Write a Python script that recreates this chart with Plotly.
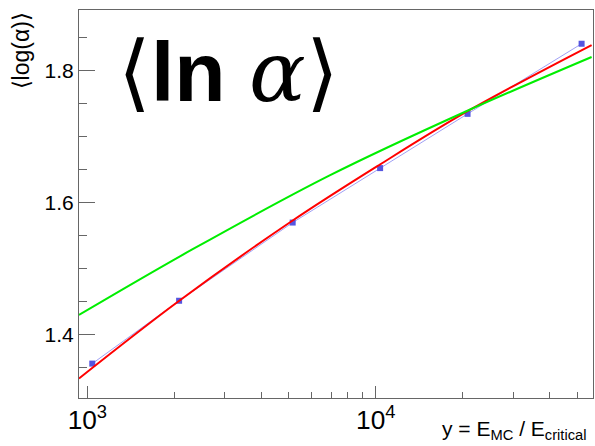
import plotly.graph_objects as go

# Data points (blue)
pts_x = [1040, 2080, 5150, 10350, 20800, 51700]
pts_y = [1.3565, 1.4515, 1.5697, 1.652, 1.734, 1.840]

# Red fit curve
red_x = [935, 2060, 5120, 10300, 20800, 56000]
red_y = [1.334, 1.450, 1.572, 1.657, 1.738, 1.838]

# Green curve
green_x = [935, 2310, 6920, 20600, 56000]
green_y = [1.430, 1.529, 1.641, 1.738, 1.820]

FONT = "Liberation Sans, Arial, Helvetica, sans-serif"

fig = go.Figure()
fig.add_trace(go.Scatter(x=pts_x, y=pts_y, mode="lines+markers",
                         line=dict(color="rgba(120,120,240,0.7)", width=1),
                         marker=dict(symbol="square", size=6, color="#5555e0"),
                         showlegend=False))
fig.add_trace(go.Scatter(x=red_x, y=red_y, mode="lines",
                         line=dict(color="#ff0000", width=2, shape="spline", smoothing=1.0),
                         showlegend=False))
fig.add_trace(go.Scatter(x=green_x, y=green_y, mode="lines",
                         line=dict(color="#00ee00", width=2, shape="spline", smoothing=1.0),
                         showlegend=False))

fig.update_layout(
    width=595, height=446,
    margin=dict(l=79, r=2, t=10, b=48, autoexpand=False),
    paper_bgcolor="white", plot_bgcolor="white",
    font=dict(family=FONT, size=21, color="black"),
    xaxis=dict(type="log", range=[2.971, 4.753], dtick=1, exponentformat="power",
               showline=True, linecolor="#666666", linewidth=1, mirror=True,
               ticks="inside", ticklen=12, tickcolor="#666666", showgrid=False,
               zeroline=False, tickfont=dict(size=21), automargin=False,
               minor=dict(ticks="inside", ticklen=6, tickcolor="#666666", showgrid=False)),
    yaxis=dict(range=[1.3045, 1.891], dtick=0.2, tick0=1.4, tickformat=".1f",
               showline=True, linecolor="#666666", linewidth=1, mirror=True,
               ticks="inside", ticklen=16, tickcolor="#666666", showgrid=False,
               zeroline=False, tickfont=dict(size=21), ticklabelstandoff=0, automargin=False,
               minor=dict(ticks="inside", ticklen=8, dtick=0.05, tickcolor="#666666", showgrid=False)),
)

fig.add_annotation(xref="paper", yref="paper", x=0.29, y=0.84, xanchor="center", yanchor="middle",
                   text="⟨<b>ln</b> <span style=\"font-family:'DejaVu Serif', serif\"><i>α</i></span>⟩",
                   showarrow=False, font=dict(size=84, family=FONT, color="black"))

fig.add_annotation(xref="paper", yref="paper", x=0.99, y=-0.045, xanchor="right", yanchor="top",
                   text="y = E<sub>MC</sub> / E<sub>critical</sub>", showarrow=False,
                   font=dict(size=21, family=FONT))

fig.add_annotation(xref="paper", yref="paper", x=-0.113, y=1.0, xanchor="center", yanchor="top",
                   text="⟨log(α)⟩", textangle=-90, showarrow=False,
                   font=dict(size=23, family=FONT))

fig.write_html("out.html", config={"displayModeBar": False},
               post_script="document.body.style.margin='0';document.body.style.padding='0';")
